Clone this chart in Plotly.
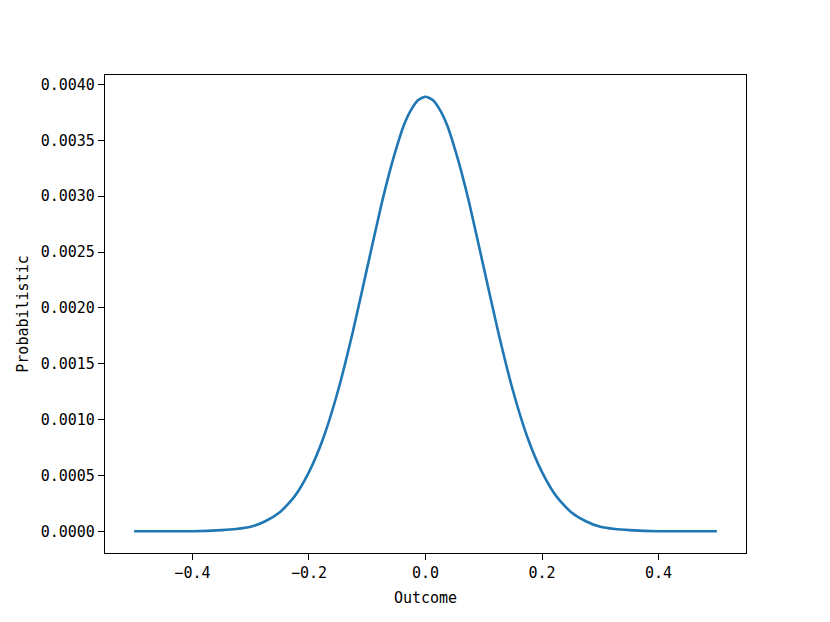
import plotly.graph_objects as go

# Values
outcome = [-0.5, -0.45, -0.4, -0.35, -0.325, -0.3, -0.275, -0.25, -0.225, -0.2, -0.175, -0.15,
           -0.125, -0.1, -0.075, -0.0625, -0.05, -0.0375, -0.025, -0.0125, 0.0, 0.0125, 0.025,
           0.0375, 0.05, 0.0625, 0.075, 0.1, 0.125, 0.15, 0.175, 0.2, 0.225, 0.25, 0.275, 0.3,
           0.325, 0.35, 0.4, 0.45, 0.5]
probability = [0.0, 0.0, 0.0, 0.00001, 0.00002, 0.00004, 0.00009, 0.00017, 0.00031, 0.00053,
               0.00084, 0.00126, 0.00178, 0.00236, 0.00294, 0.0032, 0.00343, 0.00363, 0.00377,
               0.00386, 0.00389, 0.00386, 0.00377, 0.00363, 0.00343, 0.0032, 0.00294, 0.00236,
               0.00178, 0.00126, 0.00084, 0.00053, 0.00031, 0.00017, 0.00009, 0.00004, 0.00002,
               0.00001, 0.0, 0.0, 0.0]
x_ticks = [-0.4, -0.2, 0.0, 0.2, 0.4]
y_ticks = [0.0, 0.0005, 0.001, 0.0015, 0.002, 0.0025, 0.003, 0.0035, 0.004]

FONT = "DejaVu Sans Mono, Liberation Mono, monospace"

fig = go.Figure(go.Scatter(
    x=outcome, y=probability, mode="lines",
    line=dict(color="#1f77b4", width=2.6, shape="spline", smoothing=0.6),
    showlegend=False, hoverinfo="skip"))

axis_common = dict(
    showline=True, linecolor="black", linewidth=1.3, mirror=True,
    ticks="outside", ticklen=6, tickwidth=1.3, tickcolor="black",
    showgrid=False, zeroline=False,
    tickfont=dict(family=FONT, size=15, color="black"),
)

fig.update_layout(
    width=830, height=622,
    margin=dict(l=97, r=92, t=67, b=77),
    paper_bgcolor="white", plot_bgcolor="white",
    font=dict(family=FONT, size=15, color="black"),
    xaxis=dict(range=[-0.55, 0.55], tickvals=x_ticks, tickformat=".1f",
               title=dict(text="Outcome", standoff=11,
                          font=dict(family=FONT, size=15, color="black")),
               **axis_common),
    yaxis=dict(range=[-0.0001945, 0.0040845], tickvals=y_ticks, tickformat=".4f",
               title=dict(text="Probabilistic", standoff=8,
                          font=dict(family=FONT, size=15, color="black")),
               **axis_common),
)

fig.write_html("out.html")
